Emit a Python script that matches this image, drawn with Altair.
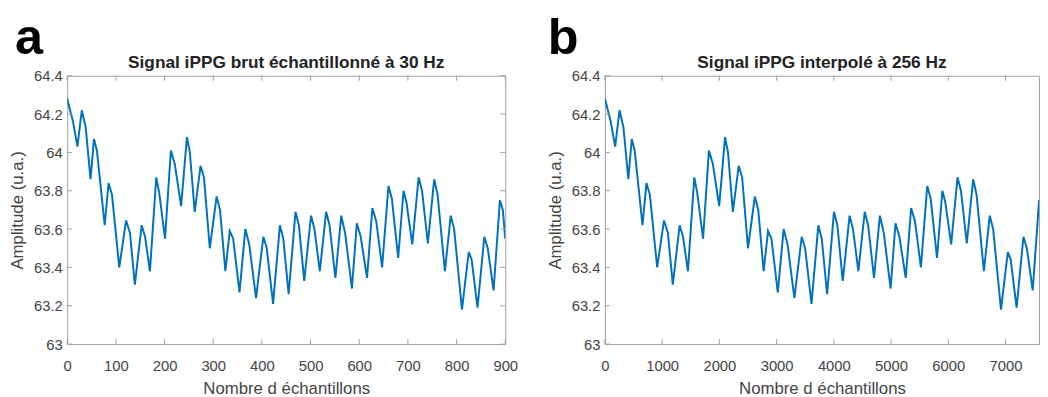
import altair as alt
import pandas as pd

# ---- data (panel a, raw 30 Hz samples) ----
samples = [0, 8, 12, 21, 30, 38, 48, 55, 61, 77, 85, 92, 107, 121, 129, 139,
           153, 160, 170, 183, 189, 201, 213, 221, 234, 246, 252, 262, 274, 281,
           293, 307, 314, 325, 334, 341, 354, 366, 374, 388, 403, 410, 423, 437,
           444, 455, 469, 476, 487, 501, 508, 519, 532, 539, 551, 563, 571, 585,
           595, 603, 616, 627, 635, 647, 660, 667, 680, 691, 697, 709, 722, 729,
           741, 754, 761, 776, 788, 795, 811, 825, 831, 843, 857, 864, 876, 889,
           895, 900]
values = [64.28, 64.20, 64.16, 64.03, 64.22, 64.13, 63.86, 64.07, 64.01, 63.62,
          63.84, 63.78, 63.40, 63.645, 63.58, 63.31, 63.62, 63.56, 63.38, 63.87,
          63.79, 63.55, 64.01, 63.94, 63.72, 64.08, 64.00, 63.69, 63.93, 63.87,
          63.50, 63.77, 63.70, 63.38, 63.59, 63.55, 63.27, 63.60, 63.52, 63.24,
          63.56, 63.50, 63.21, 63.62, 63.55, 63.26, 63.69, 63.62, 63.33, 63.67,
          63.60, 63.38, 63.69, 63.62, 63.345, 63.67, 63.58, 63.29, 63.63, 63.56,
          63.345, 63.71, 63.64, 63.40, 63.825, 63.76, 63.45, 63.80, 63.74, 63.52,
          63.87, 63.80, 63.525, 63.86, 63.78, 63.38, 63.67, 63.60, 63.18, 63.48,
          63.44, 63.19, 63.56, 63.50, 63.28, 63.75, 63.70, 63.55]
rate_raw = 30
rate_interp = 256

x_ticks_a = [0, 100, 200, 300, 400, 500, 600, 700, 800, 900]
x_ticks_b = [0, 1000, 2000, 3000, 4000, 5000, 6000, 7000]
y_ticks = [63.0, 63.2, 63.4, 63.6, 63.8, 64.0, 64.2, 64.4]

titles = ["Signal iPPG brut échantillonné à 30 Hz", "Signal iPPG interpolé à 256 Hz"]
letters = ["a", "b"]
x_label = "Nombre d échantillons"
y_label = "Amplitude (u.a.)"

FONT = "Liberation Sans"
BLUE = "#0072BD"
FRAME = "#a0a0a0"
TXT = "#444444"
H = 272


def panel(xs, xticks, domain, width, letter, title, letter_dx, right_ticks):
    df = pd.DataFrame({"x": xs, "v": values})
    x_axis = alt.Axis(values=xticks, format="d", title=x_label,
                      ticks=False, tickSize=0, domain=False, grid=False,
                      labelFlush=False, labelPadding=15, titlePadding=7)
    y_axis = alt.Axis(values=y_ticks, format=".1~f", title=y_label,
                      ticks=False, tickSize=0, domain=False, grid=False,
                      labelPadding=5, titlePadding=7)
    x_scale = alt.Scale(domain=domain, nice=False, zero=False)
    y_scale = alt.Scale(domain=[63, 64.4], nice=False, zero=False)
    line = alt.Chart(df).mark_line(color=BLUE, strokeWidth=2, clip=True).encode(
        x=alt.X("x:Q", scale=x_scale, axis=x_axis),
        y=alt.Y("v:Q", scale=y_scale, axis=y_axis),
    )
    xt = pd.DataFrame({"x": xticks})
    yt = pd.DataFrame({"v": y_ticks})
    tb = alt.Chart(xt).mark_rule(color=FRAME, strokeWidth=1).encode(
        x=alt.X("x:Q", scale=x_scale, axis=x_axis), y=alt.value(H), y2=alt.value(H - 5))
    tt = alt.Chart(xt).mark_rule(color=FRAME, strokeWidth=1).encode(
        x=alt.X("x:Q", scale=x_scale, axis=x_axis), y=alt.value(0), y2=alt.value(5))
    tl = alt.Chart(yt).mark_rule(color=FRAME, strokeWidth=1).encode(
        y=alt.Y("v:Q", scale=y_scale, axis=y_axis), x=alt.value(0), x2=alt.value(5))
    layers = [line, tb, tt, tl]
    if right_ticks:
        tr = alt.Chart(yt).mark_rule(color=FRAME, strokeWidth=1).encode(
            y=alt.Y("v:Q", scale=y_scale, axis=y_axis),
            x=alt.value(width), x2=alt.value(width - 5))
        layers.append(tr)
    ttl = alt.Chart(pd.DataFrame({"t": [title]})).mark_text(
        font=FONT, fontSize=17.5, fontWeight="bold", color="#222222",
        align="center", baseline="alphabetic").encode(
        text="t:N", x=alt.value(width / 2), y=alt.value(-7.5))
    let = alt.Chart(pd.DataFrame({"t": [letter]})).mark_text(
        font=FONT, fontSize=51, fontWeight="bold", color="#000000",
        align="left", baseline="alphabetic").encode(
        text="t:N", x=alt.value(letter_dx), y=alt.value(-22))
    layers += [ttl, let]
    return alt.layer(*layers).properties(width=width, height=H)


xs_a = samples
xs_b = [s * rate_interp / rate_raw for s in samples]

pa = panel(xs_a, x_ticks_a, [0, 900], 444, letters[0], titles[0], -53, True)
pb = panel(xs_b, x_ticks_b, [0, 7585], 440, letters[1], titles[1], -58, False)

chart = alt.hconcat(pa, pb, spacing=27).properties(
    padding={"left": 0, "top": 2, "right": 0, "bottom": 0},
    autosize=alt.AutoSizeParams(type="pad"),
    background="white",
).configure_view(stroke=FRAME, strokeWidth=1).configure_axis(
    labelFont=FONT, labelFontSize=15, labelColor=TXT,
    titleFont=FONT, titleFontSize=17, titleFontWeight="normal", titleColor=TXT,
)

chart.save("out.html", embed_options={"renderer": "svg", "actions": False})
